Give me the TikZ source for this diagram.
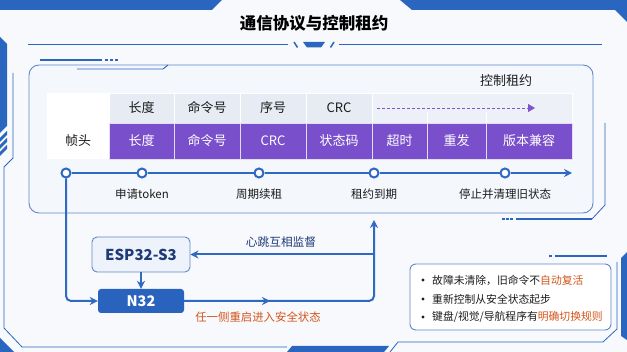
\documentclass[tikz,border=0pt]{standalone}
\usepackage{fontspec}
\setmainfont{Noto Sans CJK SC}
\usetikzlibrary{arrows.meta,calc}
\definecolor{fblue}{HTML}{2A65C0}
\definecolor{lblue}{HTML}{2F69C4}
\definecolor{pline}{HTML}{5F89C9}
\definecolor{pfill}{HTML}{F4F7FC}
\definecolor{bgc}{HTML}{F7F9FC}
\definecolor{hdr}{HTML}{E7EBF4}
\definecolor{hdr2}{HTML}{EDF0F7}
\definecolor{purp}{HTML}{7A4FCB}
\definecolor{dpurp}{HTML}{7E55CC}
\definecolor{orng}{HTML}{D4561C}
\definecolor{navy}{HTML}{1E3A78}
\definecolor{txt}{HTML}{1C1C1C}
\definecolor{espfill}{HTML}{EEF3FB}
\definecolor{n32fill}{HTML}{2A63BE}
\begin{document}
\begin{tikzpicture}[x=1pt,y=-1pt,
  hcell/.style={fill=hdr, draw=white, line width=0.8pt, minimum height=30pt, inner sep=0pt, text=txt, font=\fontsize{13}{15}\selectfont},
  pcell/.style={fill=purp, draw=white!80!purp, line width=0.6pt, minimum height=36pt, inner sep=0pt, text=white, font=\fontsize{13}{15}\selectfont},
  dot/.style={circle, draw=lblue, fill=white, line width=2pt, minimum size=9pt, inner sep=0pt},
  tlabel/.style={text=txt, font=\fontsize{11.5}{13}\selectfont},
  flow/.style={draw=lblue, line width=2pt},
  tip/.style={-{Stealth[length=8pt,width=8pt]}},
  notetxt/.style={anchor=west, text=txt, inner sep=0pt, font=\fontsize{10.8}{12}\selectfont},
  bulletdot/.style={circle, fill=txt, minimum size=3.2pt, inner sep=0pt}
]
\useasboundingbox (0,0) rectangle (627,352);
% background
\fill[bgc] (0,0) rectangle (627,352);
% frame decorations
\fill[fblue] (0,0) -- (222,0) -- (212,10) -- (0,10) -- cycle;
\fill[fblue] (400,0) -- (627,0) -- (627,22) -- (615,10) -- (412,10) -- cycle;
\fill[fblue] (0,37) -- (7,44) -- (7,126) -- (0,133) -- cycle;
\foreach \yy in {131,138,145} \fill[fblue] (7,\yy) -- (7,\yy+4) -- (0,\yy+11) -- (0,\yy+7) -- cycle;
\draw[fblue, line width=0.8pt] (13,73) -- (13,158) -- (4,167) -- (4,328) -- (22,347) -- (287,347);
\fill[fblue] (0,338) -- (14,352) -- (0,352) -- cycle;
\fill[fblue] (292,346) -- (389,346) -- (384,352) -- (287,352) -- cycle;
\draw[fblue, line width=0.8pt] (390,352) -- (398,342) -- (603,342) -- (617,329) -- (617,262);
\fill[fblue] (621,258) -- (627,252) -- (627,340) -- (621,336) -- cycle;
\draw[fblue, line width=0.8pt] (605,123) -- (605,205) -- (592,219);
\draw[fblue, line width=2.5pt] (516,219) -- (592,219);
\foreach \xx in {502,506,510} \draw[fblue, line width=2.2pt] (\xx,219) -- (\xx+2.5,219);
% title
\node[font=\bfseries\fontsize{16.5}{18}\selectfont, text=black] (title) at (314,23) {通信协议与控制租约};
\draw[fblue, line width=0.9pt] (28,44) -- (288,44);
\draw[fblue, line width=0.9pt] (339,44) -- (602,44);
\fill[fblue] (303,42) -- (325,42) -- (321,47.5) -- (307,47.5) -- cycle;
\draw[fblue, line width=1.5pt] (294,42) -- (297.5,47.5);
\draw[fblue, line width=1.5pt] (334,42) -- (330.5,47.5);
% panel
\draw[fblue, line width=2.4pt] (40,60) -- (102,60);
\foreach \xx in {105,110,115} \draw[fblue, line width=2.2pt] (\xx,60) -- (\xx+2.8,60);
\draw[pline, fill=pfill, line width=0.9pt, rounded corners=10] (29,65) rectangle (593,213);
\draw[fblue, line width=0.9pt] (77,69) -- (163,69) -- (168,65);
% table
\fill[white] (47,93) rectangle (109,159);
\node[hcell, minimum width=65pt] (h1) at (141.5,108) {长度};
\node[hcell, minimum width=66pt] (h2) at (207,108) {命令号};
\node[hcell, minimum width=66pt] (h3) at (273,108) {序号};
\node[hcell, minimum width=66pt] (h4) at (339,108) {CRC};
\node[hcell, fill=hdr2, minimum width=200pt] (hl) at (472,108) {};
\draw[white, line width=0.8pt] (427,112) -- (427,123);
\draw[white, line width=0.8pt] (486,112) -- (486,123);
\coordinate (da1) at (377,108);
\coordinate (da2) at (535,108);
\draw[dpurp, line width=0.9pt, dash pattern=on 3pt off 2pt, -{Triangle[length=7pt,width=8pt]}] (da1) -- (da2);
\node[text=txt, font=\fontsize{13}{15}\selectfont] (lease) at (506,81) {控制租约};
\node[fill=white, minimum width=62pt, minimum height=36pt, inner sep=0pt, text=txt, font=\fontsize{13}{15}\selectfont] (p0) at (78,141) {帧头};
\node[pcell, minimum width=65pt] (p1) at (141.5,141) {长度};
\node[pcell, minimum width=66pt] (p2) at (207,141) {命令号};
\node[pcell, minimum width=66pt] (p3) at (273,141) {CRC};
\node[pcell, minimum width=66pt] (p4) at (339,141) {状态码};
\node[pcell, minimum width=55pt] (p5) at (399.5,141) {超时};
\node[pcell, minimum width=59pt] (p6) at (456.5,141) {重发};
\node[pcell, minimum width=86pt] (p7) at (529,141) {版本兼容};
% timeline
\node[dot] (t1) at (66,173) {};
\node[dot] (t2) at (142,173) {};
\node[dot] (t3) at (259,173) {};
\node[dot] (t4) at (374,173) {};
\node[dot] (t5) at (505,173) {};
\coordinate (tend) at (572,173);
\draw[flow, line width=2.4pt] (t1.east) -- (t2.west);
\draw[flow, line width=2.4pt] (t2.east) -- (t3.west);
\draw[flow, line width=2.4pt] (t3.east) -- (t4.west);
\draw[flow, line width=2.4pt] (t4.east) -- (t5.west);
\draw[flow, line width=2.4pt, tip] (t5.east) -- (tend);
\node[tlabel] (l2) at (142,194) {申请token};
\node[tlabel] (l3) at (259,194) {周期续租};
\node[tlabel] (l4) at (374,194) {租约到期};
\node[tlabel] (l5) at (505,194) {停止并清理旧状态};
% devices
\node[draw=pline, fill=espfill, line width=0.9pt, rounded corners=5, minimum width=98pt, minimum height=35pt, inner sep=0pt, text=navy, font=\bfseries\fontsize{15}{17}\selectfont] (esp) at (141,254.5) {ESP32-S3};
\node[fill=n32fill, rounded corners=3, minimum width=86pt, minimum height=24pt, inner sep=0pt, text=white, font=\bfseries\fontsize{14.5}{16}\selectfont] (n32) at (141,301) {N32};
\coordinate (up) at (374,220);
\coordinate (mid) at (270,301);
\coordinate (hb) at (374,254.5);
\draw[flow, rounded corners=5, tip] (t1.south) |- (n32.west);
\draw[flow, tip] (esp.south) -- (n32.north);
\draw[flow, rounded corners=5, tip] (n32.east) -| (up);
\draw[flow, tip] (n32.east) -- (mid);
\draw[flow, tip] (hb) -- (esp.east);
\node[text=navy, font=\fontsize{11.7}{13}\selectfont] (hbl) at (281,242) {心跳互相监督};
\node[text=orng, font=\fontsize{11.4}{13}\selectfont] (rst) at (258,317) {任一侧重启进入安全状态};
% notes
\draw[fblue, line width=2.5pt] (555,256) -- (607,256);
\draw[fblue, line width=2.2pt] (549,256) -- (552,256);
\node[draw=pline, fill=white, line width=0.9pt, rounded corners=6, minimum width=201pt, minimum height=66pt, inner sep=0pt] (notes) at (510.5,297) {};
\node[bulletdot] (b1) at (423,280) {};
\node[bulletdot] (b2) at (423,299) {};
\node[bulletdot] (b3) at (423,317) {};
\node[notetxt] (n1) at (432,280) {故障未清除，旧命令不\textcolor{orng}{自动复活}};
\node[notetxt] (n2) at (432,299) {重新控制从安全状态起步};
\node[notetxt] (n3) at (432,317) {键盘/视觉/导航程序有\textcolor{orng}{明确切换规则}};
\end{tikzpicture}
\end{document}
